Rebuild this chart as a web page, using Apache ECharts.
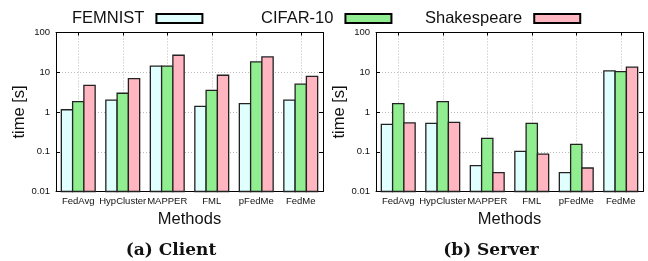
<!DOCTYPE html>
<html>
<head>
<meta charset="utf-8">
<script src="https://cdn.jsdelivr.net/npm/echarts@6/dist/echarts.min.js"></script>
<style>
  html, body { margin: 0; padding: 0; background: #fff; }
  #chart { width: 648px; height: 261px; }
</style>
</head>
<body>
<div id="chart"></div>
<script>
var methods = ['FedAvg', 'HypCluster', 'MAPPER', 'FML', 'pFedMe', 'FedMe'];
var datasets = ['FEMNIST', 'CIFAR-10', 'Shakespeare'];
var colors = ['#e0ffff', '#90ee90', '#ffb6c1'];

// client side time [s]
var clientFemnist = [1.14, 2.0, 14.2, 1.39, 1.62, 2.0];
var clientCifar = [1.82, 2.96, 14.2, 3.5, 18.2, 5.0];
var clientShakespeare = [4.7, 6.9, 26.8, 8.4, 24.3, 7.9];

// server side time [s]
var serverFemnist = [0.49, 0.52, 0.045, 0.102, 0.030, 10.8];
var serverCifar = [1.62, 1.82, 0.217, 0.52, 0.153, 10.4];
var serverShakespeare = [0.53, 0.55, 0.030, 0.087, 0.039, 13.4];

var yTicks = [0.01, 0.1, 1, 10, 100];
var halfSteps = ['', '', '', '', '', '', '', '', '', '', '', '', ''];

var myChart = echarts.init(document.getElementById('chart'));

var gridTop = 32.5, gridH = 159, gridW = 267;
var lefts = [56, 376];
var sans = 'Liberation Sans';
var yMin = 0.01;

function yMain(idx) {
    return {
        type: 'log', logBase: 10, min: yMin, max: 100, gridIndex: idx,
        name: 'time [s]', nameLocation: 'middle', nameGap: 28,
        nameTextStyle: { fontFamily: sans, fontSize: 16.5, color: '#111' },
        axisLine: { show: true, lineStyle: { color: '#000', width: 1 } },
        axisTick: { show: true, inside: true, length: 4, lineStyle: { color: '#000' } },
        axisLabel: {
            fontFamily: sans, fontSize: 9.5, color: '#111', margin: 6,
            formatter: function (v) { return yTicks.indexOf(+v.toPrecision(3)) >= 0 ? String(+v.toPrecision(3)) : ''; }
        },
        splitLine: { show: true, lineStyle: { color: '#bbb', type: [1, 2], width: 1 } }
    };
}
function yMirror(idx) {
    return {
        type: 'log', logBase: 10, min: yMin, max: 100, gridIndex: idx, position: 'right',
        axisLine: { show: true, lineStyle: { color: '#000', width: 1 } },
        axisTick: { show: true, inside: true, length: 4, lineStyle: { color: '#000' } },
        axisLabel: { show: false },
        splitLine: { show: false }
    };
}
function xMain(idx) {
    return {
        type: 'category', data: methods, gridIndex: idx,
        name: 'Methods', nameLocation: 'middle', nameGap: 15,
        nameTextStyle: { fontFamily: sans, fontSize: 16.5, color: '#111' },
        axisLine: { show: true, onZero: false, lineStyle: { color: '#000', width: 1 } },
        axisTick: { show: true, inside: true, alignWithLabel: true, length: 3, lineStyle: { color: '#000' } },
        axisLabel: { fontFamily: sans, fontSize: 9.5, color: '#111', margin: 5, interval: 0 },
        splitLine: { show: false }
    };
}
function xHelper(idx) {
    // dotted vertical grid lines through the category centres, plus top ticks
    return {
        type: 'category', data: halfSteps, gridIndex: idx, boundaryGap: false, position: 'top',
        axisLine: { show: true, onZero: false, lineStyle: { color: '#000', width: 1 } },
        axisTick: { show: true, inside: true, length: 3, interval: function (i) { return i % 2 === 1; }, lineStyle: { color: '#000' } },
        axisLabel: { show: false },
        splitLine: { show: true, interval: function (i) { return i % 2 === 1; }, lineStyle: { color: '#bbb', type: [1, 2], width: 1 } }
    };
}

// bars grow from the bottom of the log axis (echarts' own bars start at 1)
function bars(name, values, color, idx, k) {
    return {
        name: name, type: 'custom',
        xAxisIndex: idx * 2, yAxisIndex: idx * 2,
        itemStyle: { color: color, borderColor: '#222', borderWidth: 1.3 },
        data: values.map(function (v, i) { return [i, v]; }),
        z: 3,
        renderItem: function (params, api) {
            var top = api.coord([api.value(0), api.value(1)]);
            var base = api.coord([api.value(0), yMin]);
            var catW = api.size([1, 0])[0];
            var bw = catW * 0.76 / 3;
            var x = top[0] - 1.5 * bw + k * bw;
            return {
                type: 'rect',
                shape: { x: x, y: top[1], width: bw, height: base[1] - top[1] },
                style: api.style()
            };
        }
    };
}

function legendAt(left, name) {
    return {
        data: [name], left: left, top: 5, align: 'right',
        itemWidth: 46, itemHeight: 9, itemGap: 0,
        icon: 'rect',
        itemStyle: { borderColor: '#000', borderWidth: 2 },
        textStyle: { fontFamily: sans, fontSize: 16.5, color: '#111', padding: [0, 7, 0, 0] }
    };
}

var option = {
    animation: false,
    backgroundColor: '#fff',
    legend: [legendAt(67, datasets[0]), legendAt(256, datasets[1]), legendAt(420, datasets[2])],
    grid: [
        { left: lefts[0], top: gridTop, width: gridW, height: gridH, show: false },
        { left: lefts[1], top: gridTop, width: gridW, height: gridH, show: false }
    ],
    xAxis: [xMain(0), xHelper(0), xMain(1), xHelper(1)],
    yAxis: [yMain(0), yMirror(0), yMain(1), yMirror(1)],
    title: [
        { text: '(a) Client', left: 166, top: 237, textAlign: 'center',
          textStyle: { fontFamily: 'DejaVu Serif', fontWeight: 'bold', fontSize: 17, color: '#111' } },
        { text: '(b) Server', left: 486, top: 237, textAlign: 'center',
          textStyle: { fontFamily: 'DejaVu Serif', fontWeight: 'bold', fontSize: 17, color: '#111' } }
    ],
    series: [
        bars(datasets[0], clientFemnist, colors[0], 0, 0),
        bars(datasets[1], clientCifar, colors[1], 0, 1),
        bars(datasets[2], clientShakespeare, colors[2], 0, 2),
        bars(datasets[0], serverFemnist, colors[0], 1, 0),
        bars(datasets[1], serverCifar, colors[1], 1, 1),
        bars(datasets[2], serverShakespeare, colors[2], 1, 2)
    ]
};
myChart.setOption(option);
</script>
</body>
</html>
